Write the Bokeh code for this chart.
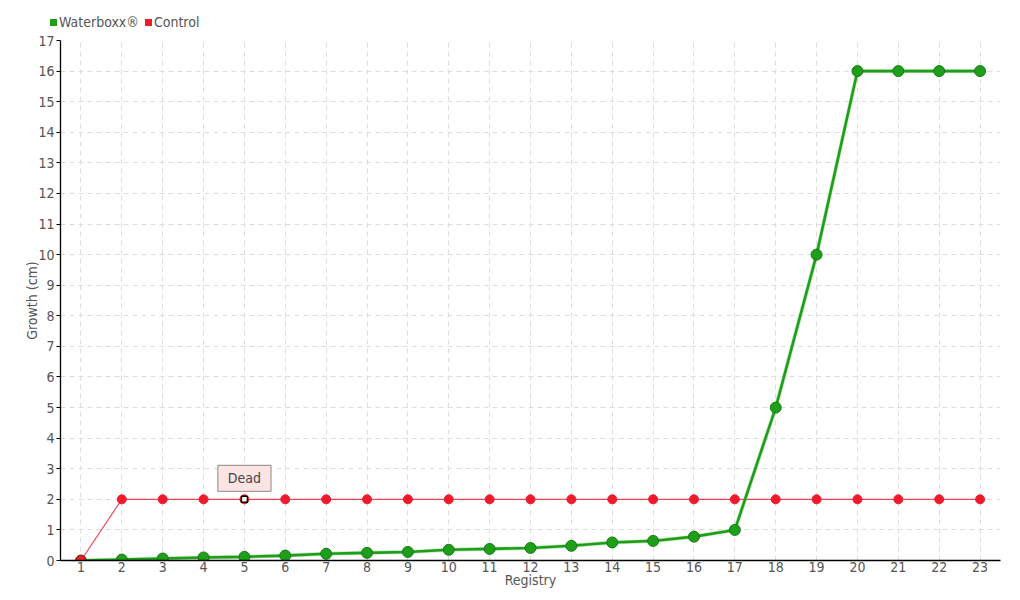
from bokeh.plotting import figure
from bokeh.layouts import column
from bokeh.models import (ColumnDataSource, Label, FixedTicker, Range1d, Div)
from bokeh.embed import file_html
from bokeh.resources import INLINE

registry = list(range(1, 24))
waterboxx = [0, 0.03, 0.065, 0.1, 0.12, 0.16, 0.22, 0.25, 0.28, 0.35, 0.38, 0.41, 0.48,
             0.59, 0.64, 0.78, 1.0, 5, 10, 16, 16, 16, 16]
control = [0, 2, 2, 2, 2, 2, 2, 2, 2, 2, 2, 2, 2, 2, 2, 2, 2, 2, 2, 2, 2, 2, 2]
y_ticks = list(range(0, 18))
series_names = ["Waterboxx®", "Control"]
annotation_x, annotation_y, annotation_text = 5, 2, "Dead"

FONT = "'DejaVu Sans Condensed', 'Roboto Condensed', Roboto"
TXT = "#555555"
GREEN = "#1f9e1a"
GREEN_DARK = "#177a14"
RED = "#f01a2c"

# ---- legend strip (HTML) ----
def item(color, name, gap):
    return (f'<span style="display:inline-block;width:7px;height:7px;background:{color};'
            f'margin-right:2px;vertical-align:middle;"></span>'
            f'<span style="vertical-align:middle;margin-right:{gap}px;">{name}</span>')

legend_html = (f'<div style="font-family:{FONT};font-size:14px;color:{TXT};'
               f'padding:13px 0 0 50px;line-height:16px;white-space:nowrap;">'
               + item(GREEN, series_names[0], 6) + item(RED, series_names[1], 0) + '</div>')
legend_div = Div(text=legend_html, width=1012, height=32, margin=(0, 0, 0, 0))

# ---- main chart ----
p = figure(width=1012, height=568, output_backend="svg", toolbar_location=None,
           x_range=Range1d(0.5, 23.5), y_range=Range1d(0, 17),
           min_border_left=60, min_border_right=12, min_border_top=8, min_border_bottom=40,
           background_fill_color="white", border_fill_color="white")
p.outline_line_color = None

src = ColumnDataSource(dict(x=registry, w=waterboxx, c=control))

p.line("x", "c", source=src, line_color=RED, line_width=1.2, line_alpha=0.8)
p.line("x", "w", source=src, line_color="#7fcf7a", line_width=4, line_alpha=0.5)
p.line("x", "w", source=src, line_color=GREEN, line_width=2.6)
p.scatter("x", "w", source=src, marker="circle", size=11, fill_color=GREEN,
          line_color=GREEN_DARK, line_width=1)
p.scatter("x", "c", source=src, marker="circle", size=9, fill_color=RED, line_color=RED)
p.scatter(x=[registry[0]], y=[control[0]], marker="circle", size=10, fill_color=RED,
          line_color="#b51420", line_width=1)

p.scatter(x=[annotation_x], y=[annotation_y], marker="square", size=6, fill_color="white",
          line_color="black", line_width=1.5)
p.add_layout(Label(x=annotation_x, y=annotation_y, text=annotation_text, x_offset=0,
                   y_offset=8, text_align="center", text_baseline="bottom",
                   text_font=FONT, text_font_size="14px", text_color="#444444",
                   background_fill_color="#fde4e4", border_line_color="#888888",
                   border_line_width=1, padding=(10, 5)))

p.xaxis.ticker = FixedTicker(ticks=registry)
p.yaxis.ticker = FixedTicker(ticks=y_ticks)
for ax in (p.xaxis[0], p.yaxis[0]):
    ax.axis_line_color = "black"
    ax.axis_line_width = 1.3
    ax.major_tick_line_color = "black"
    ax.major_tick_out = 4
    ax.major_tick_in = 0
    ax.minor_tick_line_color = None
    ax.major_label_text_font = FONT
    ax.major_label_text_font_size = "14px"
    ax.major_label_text_color = TXT
    ax.axis_label_text_font = FONT
    ax.axis_label_text_font_size = "14px"
    ax.axis_label_text_font_style = "normal"
    ax.axis_label_text_color = TXT
    ax.major_label_standoff = 2
p.xaxis.axis_label = "Registry"
p.yaxis.axis_label = "Growth (cm)"
p.xaxis.major_tick_out = 0
p.xaxis.major_label_standoff = 1
p.xaxis.axis_label_standoff = -3
p.yaxis.axis_label_standoff = -5

p.xgrid.grid_line_color = "#dddddd"
p.ygrid.grid_line_color = "#dddddd"
p.xgrid.grid_line_dash = "5 4"
p.ygrid.grid_line_dash = "5 4"

layout = column(legend_div, p, spacing=0)
open("out.html", "w").write(file_html(layout, INLINE))
